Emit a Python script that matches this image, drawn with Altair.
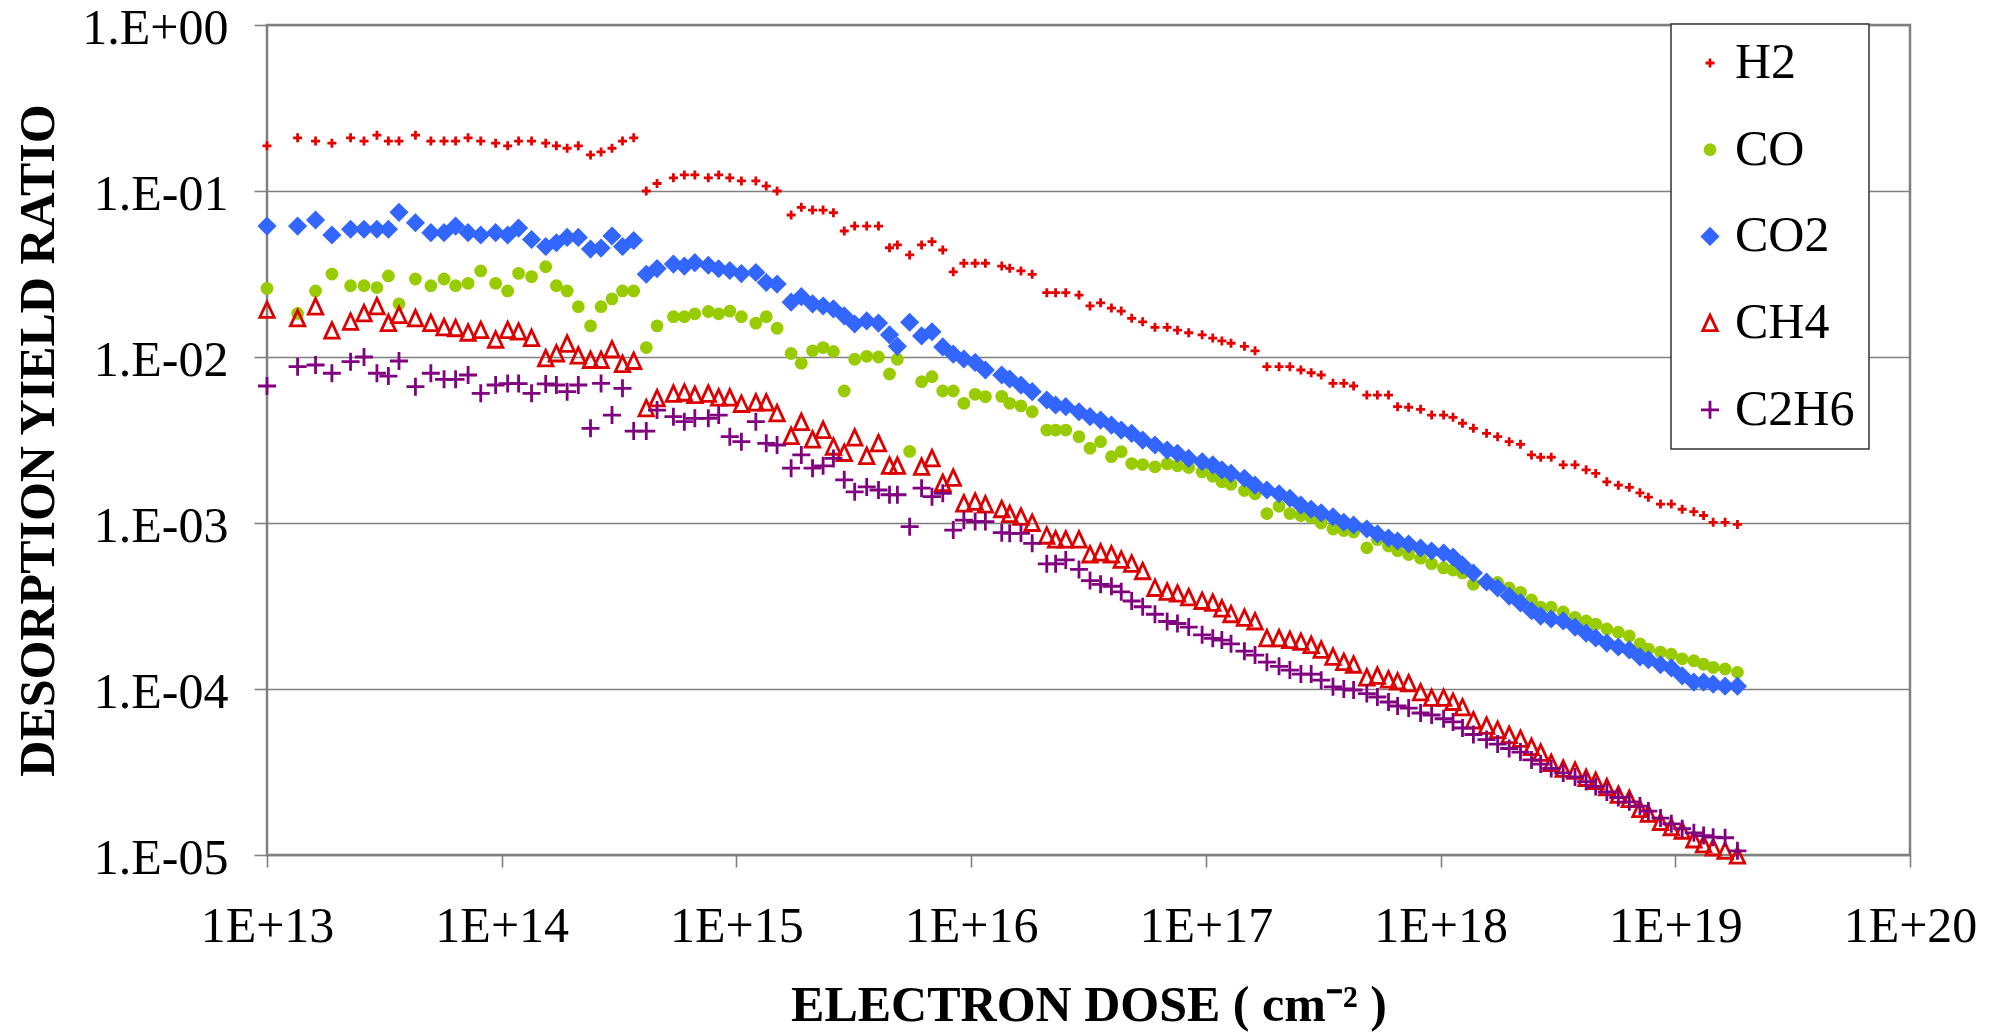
import altair as alt
import pandas as pd

# Electron dose (cm^-2), shared by all five gases (two runs)
dose = [
    1.00e13, 1.35e13, 1.61e13, 1.89e13, 2.27e13, 2.59e13, 2.94e13, 3.29e13, 3.65e13, 4.29e13,
    4.99e13, 5.68e13, 6.36e13, 7.19e13, 8.14e13, 9.42e13, 1.06e14, 1.18e14, 1.34e14, 1.54e14,
    1.71e14, 1.90e14, 2.12e14, 2.39e14, 2.65e14, 2.95e14, 3.27e14, 3.65e14,
    4.13e14, 4.59e14, 5.39e14, 6.00e14, 6.65e14, 7.59e14, 8.40e14, 9.37e14, 1.05e15, 1.21e15,
    1.34e15, 1.49e15, 1.71e15, 1.89e15, 2.11e15, 2.34e15, 2.59e15, 2.88e15, 3.19e15, 3.59e15,
    4.03e15, 4.49e15, 4.85e15, 5.47e15, 6.15e15, 6.81e15, 7.57e15, 8.39e15, 9.31e15, 1.04e16,
    1.15e16, 1.35e16, 1.46e16, 1.63e16, 1.82e16, 2.10e16, 2.29e16, 2.53e16, 2.88e16, 3.21e16,
    3.56e16, 3.96e16, 4.36e16, 4.83e16, 5.38e16, 6.07e16, 6.84e16, 7.57e16, 8.45e16, 9.64e16,
    1.07e17, 1.17e17, 1.28e17, 1.46e17, 1.62e17, 1.82e17, 2.05e17, 2.28e17, 2.54e17, 2.81e17,
    3.10e17, 3.48e17, 3.87e17, 4.26e17, 4.85e17, 5.38e17, 6.00e17, 6.56e17, 7.31e17, 8.22e17,
    9.16e17, 1.03e18, 1.13e18, 1.24e18, 1.38e18, 1.57e18, 1.75e18, 1.96e18, 2.19e18, 2.44e18,
    2.67e18, 2.96e18, 3.33e18, 3.74e18, 4.17e18, 4.58e18, 5.11e18, 5.72e18, 6.37e18, 7.07e18,
    7.68e18, 8.65e18, 9.62e18, 1.07e19, 1.20e19, 1.32e19, 1.45e19, 1.63e19, 1.84e19,
]

h2 = [
    0.187, 0.209, 0.200, 0.194, 0.209, 0.200, 0.217, 0.200, 0.200, 0.217,
    0.200, 0.200, 0.200, 0.209, 0.200, 0.194, 0.187, 0.200, 0.200, 0.194,
    0.187, 0.181, 0.187, 0.165, 0.172, 0.181, 0.200, 0.209,
    0.100, 0.111, 0.120, 0.125, 0.125, 0.120, 0.125, 0.120, 0.115, 0.115, 0.107, 0.100,
    0.0717, 0.0797, 0.0768, 0.0768, 0.0740,
    0.0574, 0.0615, 0.0615, 0.0615,
    0.0455, 0.0473, 0.0412, 0.0473, 0.0495, 0.0441,
    0.0326, 0.0367, 0.0367, 0.0367, 0.0353, 0.0342, 0.0330, 0.0315,
    0.0244, 0.0244, 0.0244, 0.0236,
    0.0203, 0.0212, 0.0197, 0.0189, 0.0171, 0.0163, 0.0151, 0.0151, 0.0145, 0.0140,
    0.0136, 0.0130, 0.0125, 0.0121, 0.0116, 0.0109,
    0.00874, 0.00874, 0.00874, 0.00835, 0.00804, 0.00779, 0.00694, 0.00694, 0.00669,
    0.00590, 0.00590, 0.00590, 0.00502, 0.00498, 0.00484, 0.00447, 0.00447, 0.00433, 0.00399, 0.00372,
    0.00347, 0.00331, 0.00309, 0.00298, 0.00257, 0.00249, 0.00249, 0.00224, 0.00224, 0.00209,
    0.00199, 0.00177, 0.00169, 0.00164, 0.00152,
    0.00143, 0.00130, 0.00130, 0.00121, 0.00117, 0.00111, 0.00101, 0.00101, 0.00098,
]

co = [
    0.0259, 0.0183, 0.0250, 0.0316, 0.0269, 0.0269, 0.0262, 0.0308, 0.0209, 0.0295,
    0.0269, 0.0295, 0.0269, 0.0278, 0.0330, 0.0278, 0.0250, 0.0319, 0.0305, 0.0350,
    0.0269, 0.0250, 0.0201, 0.0154, 0.0201, 0.0224, 0.0250, 0.0250,
    0.0114, 0.0154, 0.0175, 0.0175, 0.0182, 0.0188, 0.0182, 0.0189, 0.0175, 0.0160, 0.0175, 0.0149,
    0.0105, 0.00916, 0.0109, 0.0114, 0.0108, 0.00624, 0.00969, 0.0101, 0.0100, 0.00790,
    0.00969, 0.00270, 0.00710, 0.00761, 0.00624, 0.00624, 0.00526, 0.00596,
    0.00577, 0.00579, 0.00526, 0.00507, 0.00468, 0.00363, 0.00363, 0.00363, 0.00331, 0.00282,
    0.00309, 0.00251, 0.00269, 0.00228, 0.00225, 0.00218, 0.00227, 0.00221, 0.00216, 0.00203,
    0.00191, 0.00177, 0.00171, 0.00157, 0.00150, 0.00114, 0.00126, 0.00114, 0.00111, 0.00108,
    0.00100, 0.000920, 0.000901, 0.000883, 0.000709, 0.000794, 0.000727, 0.000681, 0.000646, 0.000614,
    0.000568, 0.000536, 0.000521, 0.000500, 0.000427, 0.000435, 0.000438, 0.000406, 0.000382, 0.000344,
    0.000311, 0.000311, 0.000291, 0.000270, 0.000257, 0.000246, 0.000230, 0.000220, 0.000209, 0.000187,
    0.000174, 0.000167, 0.000162, 0.000152, 0.000148, 0.000141, 0.000135, 0.000132, 0.000126,
]

co2 = [
    0.0615, 0.0615, 0.0669, 0.0543, 0.0588, 0.0588, 0.0588, 0.0588, 0.0744, 0.0644,
    0.0561, 0.0561, 0.0615, 0.0561, 0.0543, 0.0561, 0.0543, 0.0598, 0.0510, 0.0463,
    0.0488, 0.0525, 0.0525, 0.0447, 0.0453, 0.0536, 0.0463, 0.0503,
    0.0315, 0.0341, 0.0363, 0.0353, 0.0370, 0.0357, 0.0340, 0.0332, 0.0318, 0.0323, 0.0281, 0.0275,
    0.0214, 0.0231, 0.0209, 0.0203, 0.0195, 0.0177, 0.0158, 0.0165, 0.0160, 0.0136,
    0.0116, 0.0162, 0.0134, 0.0142, 0.0115, 0.0104, 0.00973, 0.00927,
    0.00835, 0.00779, 0.00737, 0.00678, 0.00618, 0.00551, 0.00514, 0.00502, 0.00468, 0.00437,
    0.00417, 0.00389, 0.00363, 0.00347, 0.00316, 0.00295, 0.00275, 0.00263, 0.00245, 0.00234,
    0.00224, 0.00209, 0.00199, 0.00186, 0.00169, 0.00158, 0.00150, 0.00141, 0.00128, 0.00121,
    0.00115, 0.00109, 0.00101, 0.000973, 0.000920, 0.000859, 0.000812, 0.000779, 0.000747, 0.000707,
    0.000678, 0.000660, 0.000624, 0.000558, 0.000500, 0.000441, 0.000406, 0.000363, 0.000330, 0.000296,
    0.000275, 0.000264, 0.000257, 0.000236, 0.000217, 0.000203, 0.000189, 0.000179, 0.000172, 0.000156,
    0.000150, 0.000140, 0.000134, 0.000120, 0.000110, 0.000110, 0.000107, 0.000104, 0.000104,
]

ch4 = [
    0.0192, 0.0171, 0.0201, 0.0144, 0.0163, 0.0183, 0.0202, 0.0160, 0.0179, 0.0171,
    0.0160, 0.0151, 0.0149, 0.0140, 0.0145, 0.0127, 0.0145, 0.0142, 0.0130, 0.00982,
    0.0105, 0.0120, 0.0102, 0.00959, 0.00959, 0.0111, 0.00907, 0.00946,
    0.00491, 0.00564, 0.00599, 0.00609, 0.00590, 0.00599, 0.00569, 0.00569, 0.00521, 0.00531, 0.00531, 0.00458,
    0.00334, 0.00405, 0.00318, 0.00363, 0.00288, 0.00264, 0.00327, 0.00253, 0.00302, 0.00221,
    0.00221, None, 0.00218, 0.00245, 0.00174, 0.00187, 0.00131, 0.00134,
    0.00129, 0.00121, 0.00113, 0.00109, 0.00100, 0.000838, 0.000794, 0.000794, 0.000794, 0.000646,
    0.000663, 0.000646, 0.000599, 0.000568, 0.000512, 0.000406, 0.000385, 0.000375, 0.000356, 0.000339,
    0.000330, 0.000305, 0.000282, 0.000268, 0.000255, 0.000202, 0.000202, 0.000197, 0.000192, 0.000184,
    0.000172, 0.000156, 0.000145, 0.000140, 0.000117, 0.000120, 0.000114, 0.000111, 0.000108, 0.0000953,
    0.0000883, 0.0000883, 0.0000835, 0.0000774, 0.0000646, 0.0000599, 0.0000566, 0.0000528, 0.0000500, 0.0000447,
    0.0000412, 0.0000358, 0.0000330, 0.0000321, 0.0000291, 0.0000279, 0.0000256, 0.0000230, 0.0000217, 0.0000189,
    0.0000177, 0.0000158, 0.0000147, 0.0000140, 0.0000124, 0.0000116, 0.0000111, 0.0000106, 0.0000099,
]

c2h6 = [
    0.00669, 0.00874, 0.00895, 0.00798, 0.00937, 0.0100, 0.00798, 0.00768, 0.00946, 0.00663,
    0.00798, 0.00734, 0.00734, 0.00779, 0.00604, 0.00678, 0.00692, 0.00692, 0.00604, 0.00688,
    0.00678, 0.00618, 0.00678, 0.00372, 0.00693, 0.00447, 0.00648, 0.00358,
    0.00358, 0.00479, 0.00437, 0.00408, 0.00427, 0.00427, 0.00447, 0.00331, 0.00309, 0.00408, 0.00302, 0.00295,
    0.00214, 0.00257, 0.00214, 0.00221, 0.00245, 0.00182, 0.00154, 0.00165, 0.00158, 0.00148,
    0.00148, 0.000950, 0.00162, 0.00144, 0.00151, 0.000907, 0.00104, 0.00102,
    0.00102, 0.000874, 0.000867, 0.000867, 0.000754, 0.000568, 0.000568, 0.000599, 0.000525, 0.000450,
    0.000427, 0.000416, 0.000385, 0.000339, 0.000313, 0.000282, 0.000255, 0.000248, 0.000236, 0.000212,
    0.000202, 0.000197, 0.000187, 0.000169, 0.000160, 0.000145, 0.000137, 0.000130, 0.000123, 0.000123,
    0.000113, 0.000103, 0.000100, 0.0000986, 0.0000939, 0.0000895, 0.0000835, 0.0000790, 0.0000768, 0.0000717,
    0.0000697, 0.0000662, 0.0000633, 0.0000582, 0.0000532, 0.0000496, 0.0000466, 0.0000438, 0.0000417, 0.0000374,
    0.0000353, 0.0000332, 0.0000312, 0.0000295, 0.0000277, 0.0000259, 0.0000240, 0.0000222, 0.0000209, 0.0000197,
    0.0000184, 0.0000167, 0.0000154, 0.0000144, 0.0000136, 0.0000131, 0.0000128, 0.0000127, 0.0000106,
]

series_names = ["H2", "CO", "CO2", "CH4", "C2H6"]
series_values = [h2, co, co2, ch4, c2h6]
stroke_colors = ["#E60000", "#99CC00", "#3366FF", "#DD0000", "#800080"]
fill_colors = ["transparent", "#99CC00", "#3366FF", "transparent", "transparent"]
shapes = [
    "M-0.45,0L0.45,0M0,-0.45L0,0.45",
    "M0.5,0A0.5,0.5,0,1,1,-0.5,0A0.5,0.5,0,1,1,0.5,0Z",
    "M0,-0.76L0.76,0L0,0.76L-0.76,0Z",
    "M0,-0.8L0.72,0.75L-0.72,0.75Z",
    "M-0.9,0L0.9,0M0,-0.9L0,0.9",
]
x_ticks = [1e13, 1e14, 1e15, 1e16, 1e17, 1e18, 1e19, 1e20]
y_ticks = [1.0, 1e-1, 1e-2, 1e-3, 1e-4, 1e-5]

rows = []
for name, vals in zip(series_names, series_values):
    for d, v in zip(dose, vals):
        if v is not None:
            rows.append({"dose": d, "ratio": v, "series": name})
df = pd.DataFrame(rows)

FONT = "Liberation Serif"
leg = alt.Legend(title=None, orient="none", legendX=1404, legendY=-1)

chart = (
    alt.Chart(df)
    .mark_point(size=400, opacity=1, strokeWidth=2.8)
    .encode(
        x=alt.X(
            "dose:Q",
            scale=alt.Scale(type="log", domain=[1e13, 1e20], nice=False),
            axis=alt.Axis(
                values=x_ticks,
                labelExpr="'1E+' + format(log(datum.value)/LN10, '.0f')",
                grid=False, domain=False, tickSize=12, labelPadding=34,
                labelFlush=False, labelOverlap=False,
                title="ELECTRON DOSE ( cm⁻² )", titleY=165, titleBaseline="alphabetic",
            ),
        ),
        y=alt.Y(
            "ratio:Q",
            scale=alt.Scale(type="log", domain=[1e-5, 1], nice=False),
            axis=alt.Axis(
                values=y_ticks,
                labelExpr="'1.E' + (datum.value >= 0.99 ? '+00' : '-0' + format(-log(datum.value)/LN10, '.0f'))",
                grid=True, domain=False, tickSize=13, labelPadding=26, labelOffset=3,
                labelFlush=False, labelOverlap=False,
                title="DESORPTION YIELD RATIO", titleX=-214, titleY=415,
                titleAngle=270, titleBaseline="alphabetic",
            ),
        ),
        shape=alt.Shape("series:N", scale=alt.Scale(domain=series_names, range=shapes), legend=leg),
        fill=alt.Fill("series:N", scale=alt.Scale(domain=series_names, range=fill_colors), legend=leg),
        stroke=alt.Stroke("series:N", scale=alt.Scale(domain=series_names, range=stroke_colors), legend=leg),
    )
    .properties(
        width=1643, height=830,
        autosize=alt.AutoSizeParams(type="none"),
        padding={"left": 267, "top": 25, "right": 92, "bottom": 179},
        background="white",
    )
    .configure_view(stroke="#808080", strokeWidth=2.5)
    .configure_axis(
        labelFont=FONT, labelFontSize=50, labelColor="black",
        titleFont=FONT, titleFontSize=50, titleFontWeight="bold", titleColor="black",
        gridColor="#808080", gridWidth=1.4, tickColor="#808080", tickWidth=1.6,
    )
    .configure_legend(
        padding=14, rowPadding=36.7, labelFont=FONT, labelFontSize=50, labelColor="black",
        labelOffset=0, symbolSize=400, symbolStrokeWidth=2.8, symbolOpacity=1,
        strokeColor="#333333", strokeWidth=1.5, fillColor="white", labelLimit=400,
    )
)

chart.save("out.html", embed_options={"renderer": "svg", "actions": False})
